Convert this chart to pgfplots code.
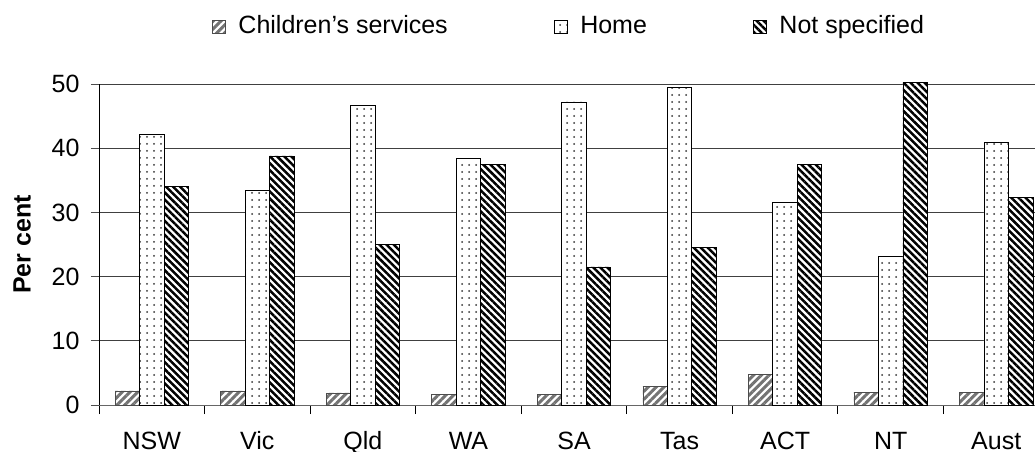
\documentclass[border=0pt]{standalone}
\usepackage{fontspec}
\setmainfont{Liberation Sans}
\usepackage{pgfplots}
\pgfplotsset{compat=1.18}
\usetikzlibrary{patterns.meta}
\begin{document}
\fontsize{25bp}{30bp}\selectfont
\begin{tikzpicture}
\useasboundingbox (-99bp,-47bp) rectangle (936bp,405bp);
\clip (-99bp,-47bp) rectangle (936bp,405bp);
\begin{axis}[
  at={(0,0)}, anchor=south west,
  scale only axis, width=950bp, height=321bp,
  ybar=0pt, bar width=24.5bp,
  xmin=-0.5, xmax=8.5, ymin=0, ymax=50,
  clip=false,
  axis x line*=bottom, axis y line*=left,
  x axis line style={draw=black!60, -},
  y axis line style={draw=black, -},
  xtick={0,...,8},
  xticklabels={NSW,Vic,Qld,WA,SA,Tas,ACT,NT,Aust},
  major x tick style={draw=none},
  minor xtick={-0.5,0.5,...,8.5},
  minor x tick style={draw=black, line width=0.8bp},
  minor tick length=9bp,
  ytick={0,10,...,50},
  y tick style={draw=black!70, line width=0.8bp},
  major tick length=8bp,
  tick align=outside,
  ymajorgrids,
  grid style={draw=black!75, line width=0.9bp},
  xticklabel style={anchor=north, yshift=-18bp, text height=0.72em, text depth=0bp, inner sep=0bp},
  yticklabel style={xshift=-3bp},
  ylabel={\bfseries Per cent},
  ylabel style={yshift=4bp},
  tick label style={font=\fontsize{25bp}{30bp}\selectfont},
  label style={font=\fontsize{25bp}{30bp}\selectfont},
  /pgf/number format/assume math mode=true,
  legend columns=3,
  legend style={at={(axis description cs:0.4947,1.178)}, anchor=center, draw=none, fill=none,
    font=\fontsize{25bp}{30bp}\selectfont,
    nodes={text height=0.72em, text depth=0.21em},
    /tikz/every odd column/.append style={column sep=11bp},
    /tikz/every even column/.append style={column sep=104bp}},
  legend image code/.code={\draw[#1, line width=0.5bp] (0bp,-6.5bp) rectangle (13bp,6.5bp);},
]
\addplot[draw=black!70, line width=0.6bp, fill=white,
  postaction={pattern={Lines[angle=45, distance=5.5bp, line width=3bp]}, pattern color=black!55}]
  coordinates {(0,2.2) (1,2.2) (2,1.9) (3,1.7) (4,1.7) (5,2.9) (6,4.8) (7,2.0) (8,2.0)};
\addplot[draw=black, line width=0.8bp, fill=white,
  postaction={pattern={Dots[distance=7bp, radius=1bp]}, pattern color=black!80}]
  coordinates {(0,42.2) (1,33.5) (2,46.6) (3,38.4) (4,47.2) (5,49.4) (6,31.6) (7,23.1) (8,40.9)};
\addplot[draw=black, line width=0.8bp, fill=white,
  postaction={pattern={Lines[angle=-45, distance=5bp, line width=2.5bp]}, pattern color=black}]
  coordinates {(0,34.1) (1,38.8) (2,25.0) (3,37.5) (4,21.5) (5,24.6) (6,37.5) (7,50.2) (8,32.3)};
\legend{Children’s services, Home, Not specified}
\end{axis}
\end{tikzpicture}
\end{document}
